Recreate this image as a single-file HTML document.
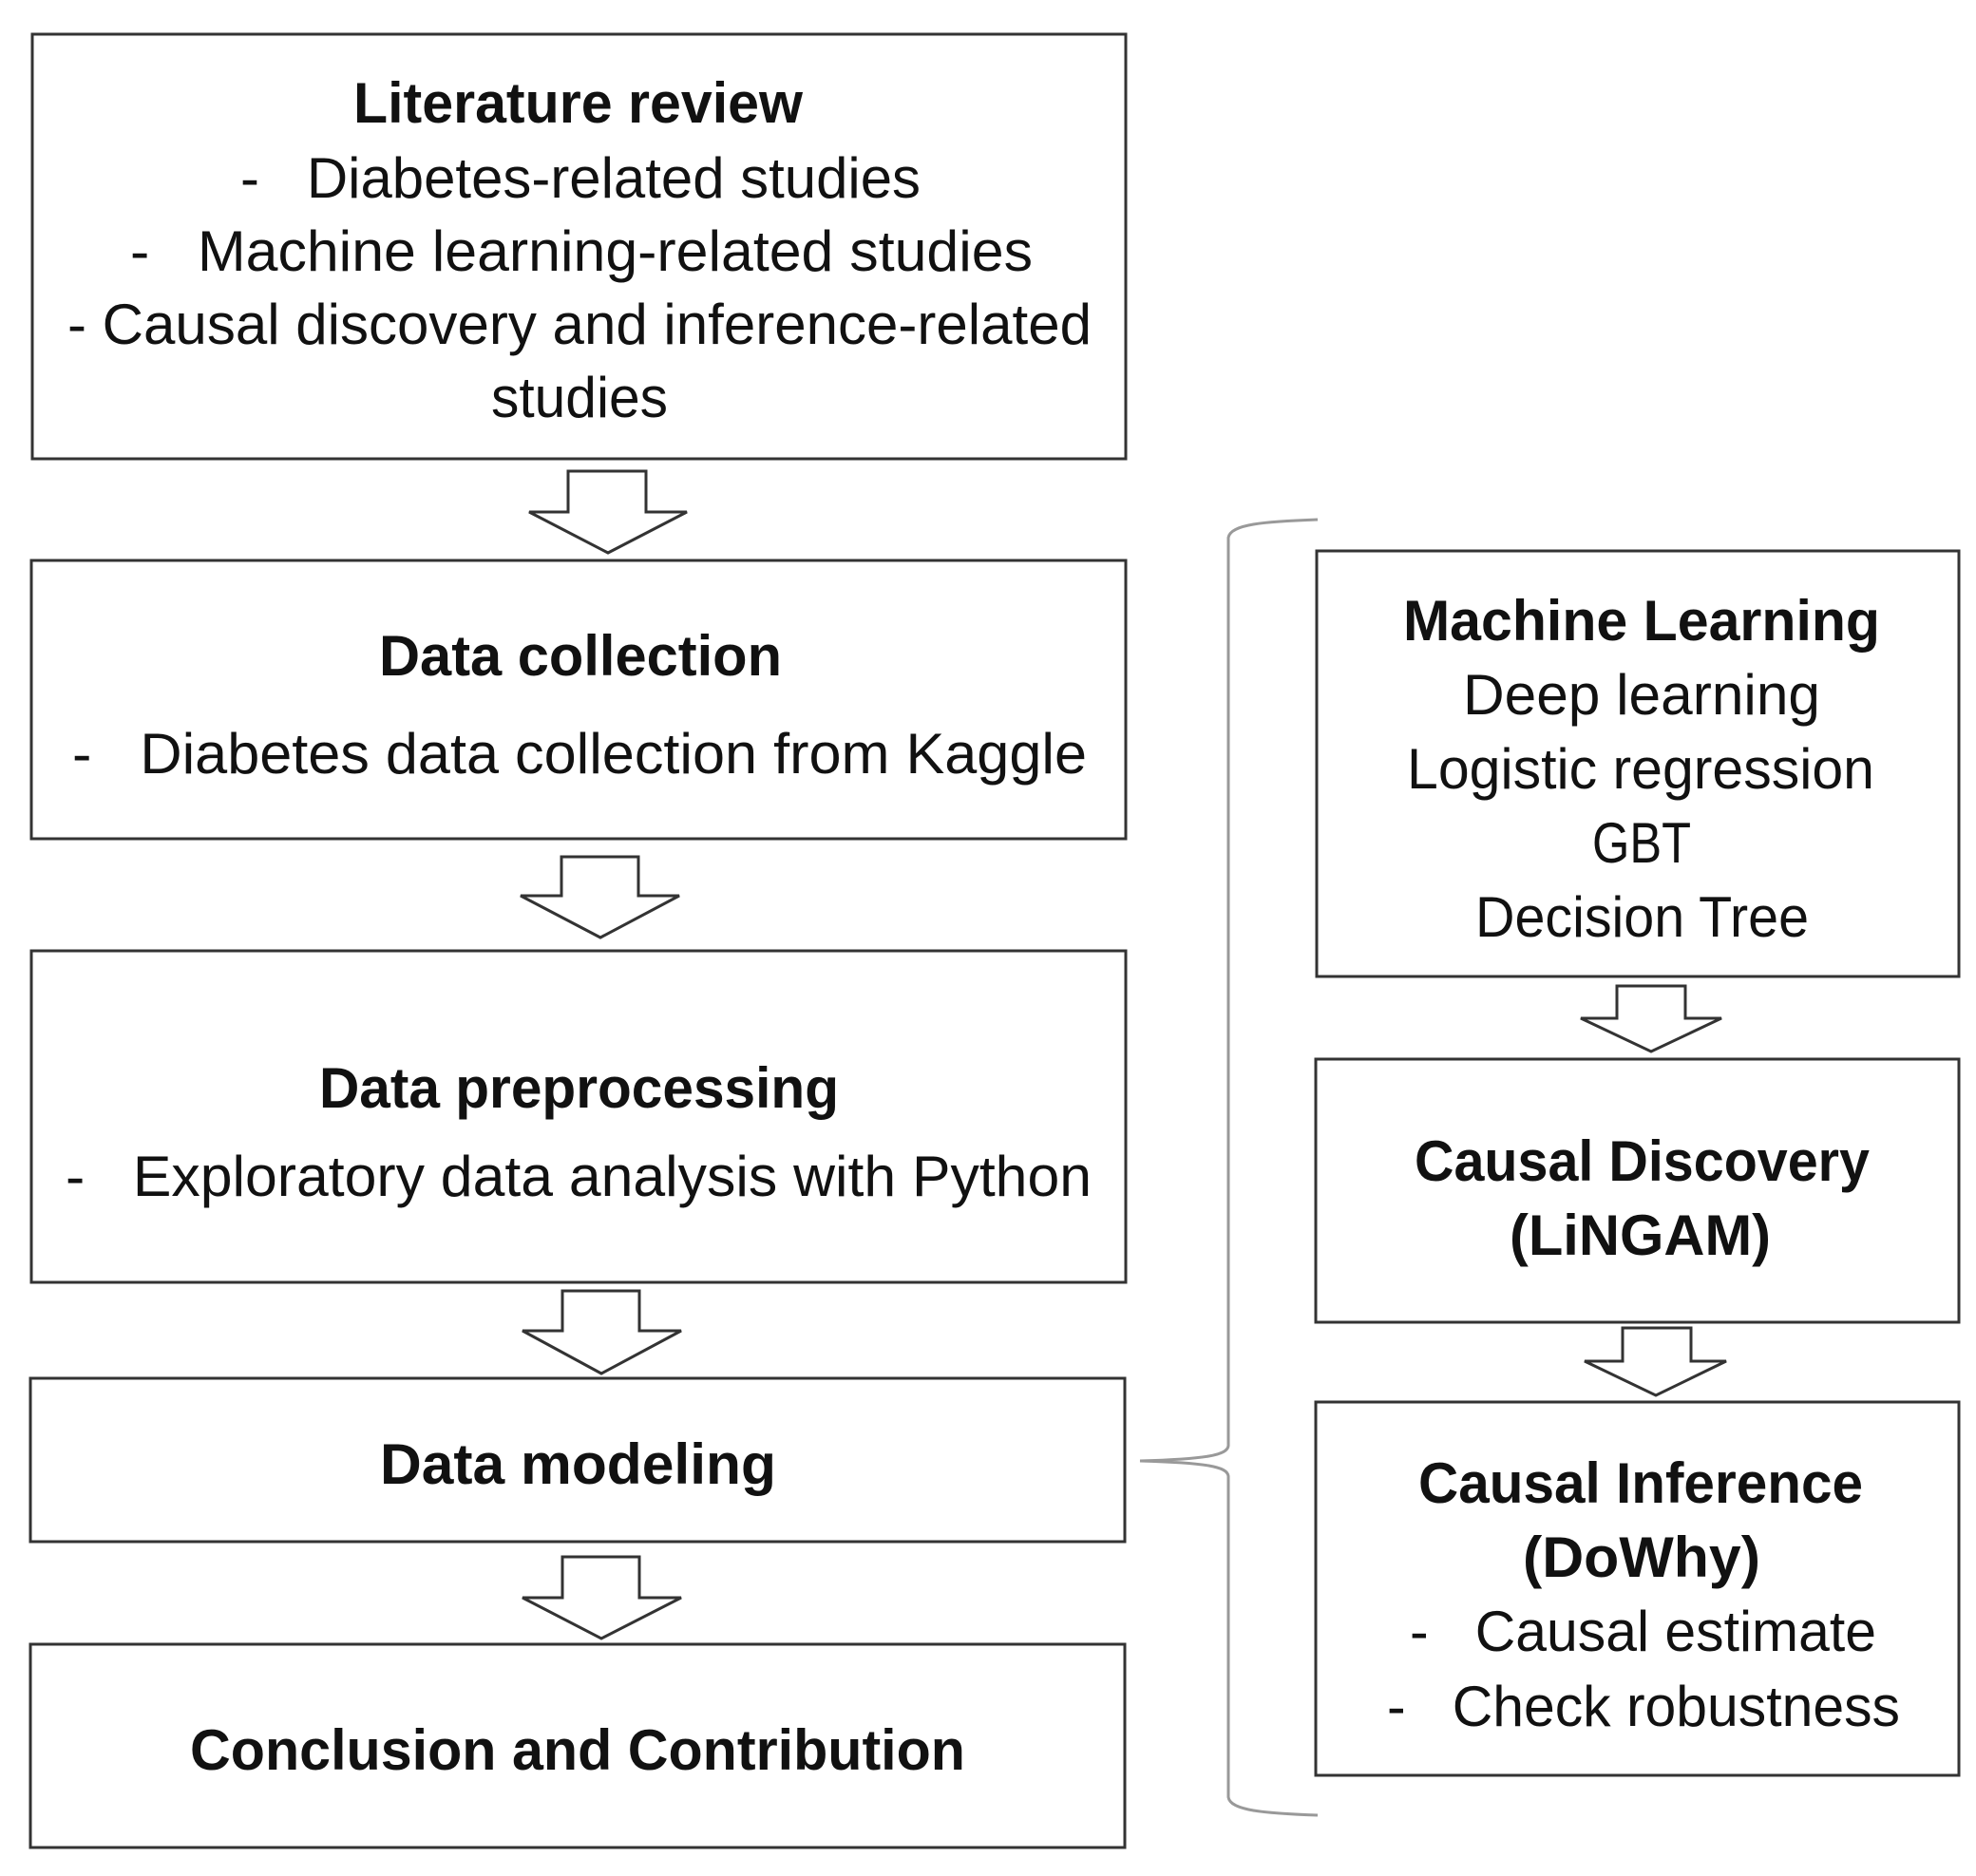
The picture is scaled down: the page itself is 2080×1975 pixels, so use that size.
<!DOCTYPE html>
<html><head><meta charset="utf-8"><style>
html,body{margin:0;padding:0;background:#fff;}
svg{display:block;}
text{font-family:"Liberation Sans",sans-serif;fill:#111;}
.b{font-weight:bold;}
</style></head><body>
<svg width="2080" height="1975" viewBox="0 0 2080 1975" xmlns="http://www.w3.org/2000/svg">
<g fill="#fff" stroke="#333" stroke-width="3">
<rect x="34" y="36" width="1151" height="447"/>
<rect x="33" y="590" width="1152" height="293"/>
<rect x="33" y="1001" width="1152" height="349"/>
<rect x="32" y="1451" width="1152" height="172"/>
<rect x="32" y="1731" width="1152" height="214"/>
<rect x="1386" y="580" width="676" height="448"/>
<rect x="1385" y="1115" width="677" height="277"/>
<rect x="1385" y="1476" width="677" height="393"/>
</g>
<g fill="#fff" stroke="#333" stroke-width="3" stroke-linejoin="miter">
<polygon points="598,496 680,496 680,539 723,539 640,582 557,539 598,539"/>
<polygon points="591,902 672,902 672,943 715,943 632,987 548,943 591,943"/>
<polygon points="592,1359 673,1359 673,1401 717,1401 633,1446 550,1401 592,1401"/>
<polygon points="592,1639 673,1639 673,1682 717,1682 633,1725 550,1682 592,1682"/>
<polygon points="1702,1038 1774,1038 1774,1072 1812,1072 1738,1107 1664,1072 1702,1072"/>
<polygon points="1708,1398 1780,1398 1780,1433 1817,1433 1743,1469 1668,1433 1708,1433"/>
</g>
<path d="M1387,547 C1330,549 1295,552 1293,566 L1293,1522 C1292,1532 1270,1536 1200,1538 C1270,1540 1292,1544 1293,1554 L1293,1892 C1295,1906 1330,1909 1387,1911" fill="none" stroke="#999" stroke-width="3"/>

<g font-size="60">
<text class="b" x="372" y="129" textLength="473" lengthAdjust="spacingAndGlyphs">Literature review</text>
<text x="253" y="208" textLength="716" lengthAdjust="spacingAndGlyphs" xml:space="preserve">-   Diabetes-related studies</text>
<text x="137" y="285" textLength="950" lengthAdjust="spacingAndGlyphs" xml:space="preserve">-   Machine learning-related studies</text>
<text x="71" y="362" textLength="1078" lengthAdjust="spacingAndGlyphs">- Causal discovery and inference-related</text>
<text x="517" y="439" textLength="186" lengthAdjust="spacingAndGlyphs">studies</text>

<text class="b" x="399" y="711" textLength="424" lengthAdjust="spacingAndGlyphs">Data collection</text>
<text x="76" y="814" textLength="1068" lengthAdjust="spacingAndGlyphs" xml:space="preserve">-   Diabetes data collection from Kaggle</text>

<text class="b" x="336" y="1166" textLength="547" lengthAdjust="spacingAndGlyphs">Data preprocessing</text>
<text x="69" y="1259" textLength="1080" lengthAdjust="spacingAndGlyphs" xml:space="preserve">-   Exploratory data analysis with Python</text>

<text class="b" x="400" y="1562" textLength="417" lengthAdjust="spacingAndGlyphs">Data modeling</text>
<text class="b" x="200" y="1863" textLength="816" lengthAdjust="spacingAndGlyphs">Conclusion and Contribution</text>

<text class="b" x="1477" y="674" textLength="502" lengthAdjust="spacingAndGlyphs">Machine Learning</text>
<text x="1540" y="752" textLength="376" lengthAdjust="spacingAndGlyphs">Deep learning</text>
<text x="1481" y="830" textLength="492" lengthAdjust="spacingAndGlyphs">Logistic regression</text>
<text x="1676" y="908" textLength="104" lengthAdjust="spacingAndGlyphs">GBT</text>
<text x="1553" y="986" textLength="351" lengthAdjust="spacingAndGlyphs">Decision Tree</text>

<text class="b" x="1489" y="1243" textLength="479" lengthAdjust="spacingAndGlyphs">Causal Discovery</text>
<text class="b" x="1589" y="1321" textLength="275" lengthAdjust="spacingAndGlyphs">(LiNGAM)</text>

<text class="b" x="1493" y="1582" textLength="468" lengthAdjust="spacingAndGlyphs">Causal Inference</text>
<text class="b" x="1603" y="1660" textLength="250" lengthAdjust="spacingAndGlyphs">(DoWhy)</text>
<text x="1484" y="1738" textLength="491" lengthAdjust="spacingAndGlyphs" xml:space="preserve">-   Causal estimate</text>
<text x="1460" y="1817" textLength="540" lengthAdjust="spacingAndGlyphs" xml:space="preserve">-   Check robustness</text>
</g>
</svg>
</body></html>
